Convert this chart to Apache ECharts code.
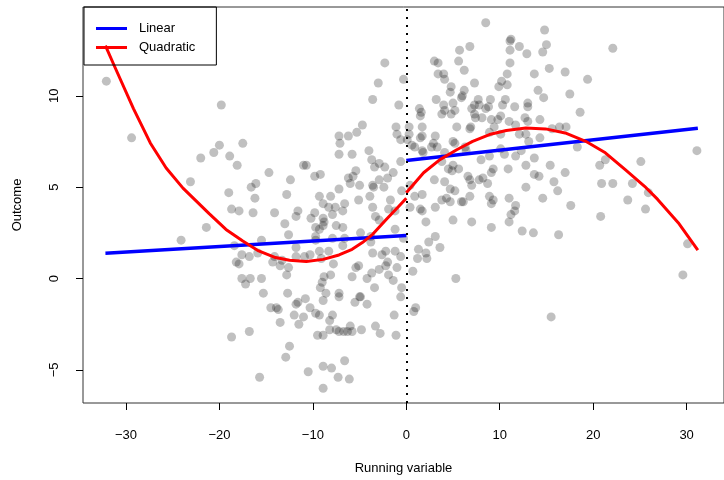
<!DOCTYPE html>
<html>
<head>
<meta charset="utf-8">
<script src="https://cdn.jsdelivr.net/npm/echarts@6/dist/echarts.min.js"></script>
<style>
  html, body { margin: 0; padding: 0; background: #fff; }
  #chart { width: 724px; height: 480px; }
</style>
</head>
<body>
<div id="chart"></div>
<script>
// scatter points (running variable, outcome)
const runVar = [
  -32.1, -19.8, -29.4, -17.5, -20.0, -20.6, -22.0, -18.9, -18.1, -14.7, -23.1, -16.1, -16.6, -19.0, -16.2,
  -18.7, -17.9, -16.4, -21.4, -24.1, -15.5, -18.4, -17.6, -16.8, -15.9, -18.2, -17.9, -14.3, -17.6, -16.7,
  -17.2, -15.5, -15.3, -14.5, -16.8, -18.7, -15.7, -14.1, -13.3,
  -2.3, -0.3, -3.0, -3.6, -0.8,
  -4.7, -5.3, -6.2, -7.2, -7.1, -1.1, -1.0, -0.6, -4.0, -7.2, -5.8, -3.7, -2.9, -3.4, -2.3, -0.6, -1.4, -5.4,
  -5.7, -10.7, -11.0, -9.2, -9.8, -12.4, -6.2, -6.0, -5.0, -2.9, -2.0, -3.6, -3.5, -2.4, -0.5, -7.2, -12.8,
  -9.3, -8.1, -3.9, -5.1, -1.7, -8.9, -8.3, -7.6, -6.6, -6.8, -3.6, -11.6, -14.1, -11.8, -9.8, -10.2, -8.9,
  -8.8, -7.9, -3.3, -2.9, -1.9, -1.2, -13.0, -7.5, -6.8, -9.7, -9.3, -8.9, -4.9, -1.2, -12.6, -9.7, -3.8, -0.3,
  -11.8, -13.5, -12.6, -11.8, -10.9, -10.3, -9.3, -8.3, -9.7, -7.9, -6.6, -6.8, -9.1, -7.8, -12.8, -8.1, -5.4,
  -5.1, -5.8, -3.7, -4.2, -2.9, -2.2, -2.0, -2.6, -2.2, -1.2, -0.6, -3.8, -3.6, -1.0, -1.9, -1.4, -3.4, -0.5,
  -0.6, -8.8, -9.0, -9.2, -8.6, -8.9, -7.2, -7.2, -5.0, -4.9, -5.5, -4.2, -12.7, -13.9, -13.7, -11.6, -11.8,
  -10.8, -10.3, -9.7, -9.3, -7.9, -12.0, -11.0, -13.5, -11.5, -8.2, -1.3, -3.3, -2.8, -4.8, -6.0, -6.3, -5.8,
  -7.5, -6.7, -7.2, -8.2, -9.5, -8.9, -1.1, -12.5, -12.9, -6.6, -8.9, -8.0, -10.5, -7.3, -6.1, -8.9,
  8.5, 11.2, 11.1, 12.1, 12.9, 11.1, 6.8, 5.7, 11.1, 5.6, 3.0, 3.4, 6.2, 3.4, 4.0, 4.1, 10.8, 7.3, 10.2, 9.9,
  10.8, 4.8, 4.7, 6.2, 6.0, 5.9, 3.2, 7.7, 7.3, 7.8, 7.0, 9.0, 8.8, 8.5, 10.6, 10.3, 11.6, 13.0, 4.0, 4.1,
  3.8, 5.0, 5.2, 4.8, 1.4, 1.6, 1.5, 7.3, 8.1, 7.4, 10.1, 9.8, 11.0, 11.7, 12.7, 13.0, 9.1, 9.4, 5.4, 6.8,
  6.9, 1.7, 0.3,
  0.3, 0.1, 1.5, 1.7, 3.1, 5.0, 5.2, 8.9, 12.1, 12.8, 10.1, 2.9, 2.7, 3.3, 0.6, 0.9, 1.7, 1.8, 4.1, 6.3,
  6.4, 8.0, 8.9, 10.1, 10.5, 11.7, 12.3, 3.8, 4.5, 4.9, 5.0, 5.6, 6.6, 6.8, 7.8, 8.2, 9.1, 9.3, 10.9, 12.8,
  3.0, 4.1, 0.9, 0.4, 1.7, 4.7, 5.2, 7.0, 6.8, 8.7, 8.9, 9.3, 12.8, 3.8, 4.3, 4.7, 5.9, 6.1, 1.5, 1.7,
  0.4, 3.1, 9.1, 11.0, 11.7, 11.6, 11.0, 5.0, 7.0, 2.1, 3.1, 9.1,
  0.7, 1.3, 1.2, 2.2, 2.1, 2.4, 3.6, 5.3, 1.0, 0.8,
  14.8, 15.0, 14.6, 22.1, 15.3, 13.7, 17.0, 19.4, 14.1, 14.7, 17.5, 13.0, 18.6, 14.3, 16.4, 17.1, 15.6, 13.1,
  14.3, 18.3, 13.7, 15.4, 17.0, 13.7, 14.2, 15.8, 16.2, 14.6, 20.7, 21.3, 25.1, 20.9, 22.1, 24.2, 25.9, 23.7,
  31.1,
  11.2, 12.4, 13.6, 16.3, 17.6, 20.8, 25.6, 30.1, 29.6, 15.5
];
const outcome = [
  10.8, 9.5, 7.7, 7.4, 7.3, 6.9, 6.6, 6.7, 6.2, 5.8, 5.3, 5.2, 5.0, 4.7, 4.4,
  3.8, 3.7, 3.6, 2.8, 2.1, 2.1, 1.8, 1.3, 1.2, 1.4, 0.9, 0.8, 0.9, 0.0, 0.0,
  -0.3, 0.0, -0.8, -1.6, -2.9, -3.2, -5.4, 1.2, 1.0,
  11.8, 10.9, 10.7, 9.8, 9.5,
  8.4, 8.0, 7.8, 7.8, 7.4, 8.3, 7.9, 7.6, 7.0, 6.8, 6.8, 6.5, 6.3, 6.1, 6.1, 6.4, 5.8, 5.9,
  5.6, 6.2, 6.2, 5.7, 5.6, 5.4, 5.5, 5.2, 5.1, 5.4, 5.5, 5.1, 5.0, 5.0, 4.8, 4.9, 4.6,
  4.5, 4.5, 4.5, 4.3, 4.3, 4.1, 3.9, 3.9, 4.1, 3.7, 3.9, 3.7, 3.6, 3.4, 3.6, 3.3, 3.3,
  3.1, 3.5, 3.4, 3.2, 3.8, 3.7, 3.0, 2.9, 2.8, 2.8, 2.7, 2.9, 2.5, 2.7, 2.4, 2.3, 2.3, 2.2,
  1.7, 0.7, 0.6, 1.2, 1.2, 1.3, 1.5, 1.5, 2.1, 2.2, 2.2, 1.8, 1.1, 0.8, 0.2, 0.2, 0.6,
  0.7, 0.1, 0.3, 0.0, 0.5, 0.7, 0.9, 1.3, 1.5, 1.5, 1.2, 2.0, 1.4, 0.6, 0.2, -0.1, -0.5, -0.5,
  -1.0, 0.1, -0.2, -0.5, -0.8, -1.2, -0.8, -1.0, -1.0, -1.0, -1.3, -1.4, -0.8, -1.6, -1.7, -1.3, -1.4,
  -1.1, -1.6, -1.9, -2.0, -2.0, -2.0, -2.1, -2.4, -2.5, -2.3, -2.0, -2.6, -3.0, -2.8, -2.6, -2.9, -2.9,
  -2.8, -2.9, -2.9, -2.8, -3.1, -3.1, -3.1, -3.7, -4.3, -4.5, -4.8, -4.9, -5.1, -5.4, -5.5, -6.0,
  14.0, 13.1, 13.0, 12.7, 12.3, 12.5, 12.7, 12.5, 11.8, 11.9, 11.9, 11.8, 11.4, 11.2, 11.2, 10.9, 11.2, 10.7, 10.8, 10.5,
  10.6, 10.5, 10.2, 10.3, 10.0, 9.9, 9.8, 9.8, 9.5, 9.5, 9.3, 9.8, 9.4, 9.3, 9.8, 9.5, 9.4, 9.6, 9.5, 9.2,
  9.0, 9.6, 9.2, 9.0, 9.3, 9.1, 8.9, 9.0, 8.8, 8.8, 8.9, 8.7, 8.6, 8.4, 8.8, 8.6, 8.7, 8.3, 8.3, 8.2,
  8.3, 8.3, 8.3,
  7.9, 7.6, 7.7, 7.8, 7.8, 7.5, 7.4, 8.0, 7.9, 7.9, 7.9, 7.4, 7.2, 7.2, 7.3, 7.2, 7.0, 6.9, 6.9, 7.2,
  7.0, 6.5, 6.7, 7.1, 6.8, 6.7, 7.0, 6.4, 6.0, 5.9, 6.2, 6.0, 5.6, 5.4, 5.4, 5.5, 5.8, 6.0, 6.0, 6.2,
  5.4, 5.3, 4.5, 5.1, 4.6, 4.9, 4.8, 5.1, 4.5, 5.2, 4.5, 4.3, 5.0, 4.3, 4.4, 4.2, 4.2, 4.2, 3.8, 3.7,
  3.9, 3.9, 4.1, 4.4, 4.0, 3.7, 3.1, 3.2, 3.1, 3.1, 2.3, 2.8,
  0.4, 1.6, 1.1, 1.1, 1.4, 2.0, 1.7, 0.0, -1.6, -1.8,
  13.6, 12.8, 12.4, 12.6, 11.5, 11.2, 11.3, 10.9, 10.3, 9.9, 10.1, 9.4, 9.1, 8.7, 8.3, 8.3, 8.2, 7.5,
  7.7, 7.2, 6.6, 6.2, 5.8, 5.7, 5.6, 5.3, 4.8, 4.4, 6.2, 6.5, 6.4, 5.2, 5.2, 5.2, 4.7, 4.3,
  7.0,
  3.5, 2.6, 2.5, 2.4, 4.0, 3.4, 3.8, 1.9, 0.2, -2.1
];

const cutoff = 0;
const linLeftX = [-32.2, 0];
const linLeftY = [1.38, 2.36];
const linRightX = [0, 31.2];
const linRightY = [6.46, 8.22];
const quadLeftX = [-32.2, -31.3, -29.2, -27.4, -25.7, -23.9, -22.5, -21.1, -19.3, -17.5, -15.8, -14.0,
  -12.5, -10.7, -8.9, -7.2, -5.8, -4.7, -3.6, -2.2, -0.8, 0];
const quadLeftY = [12.75, 11.7, 9.3, 7.42, 6.05, 4.95, 4.25, 3.55, 2.69, 2.05, 1.51, 1.15,
  1.0, 0.93, 1.05, 1.29, 1.60, 1.97, 2.42, 3.2, 3.96, 4.40];
const quadRightX = [0, 1.85, 3.6, 5.4, 7.1, 8.9, 10.7, 12.8, 14.9, 17.0, 19.2, 21.3, 23.4, 25.5, 26.9, 29.1, 31.2];
const quadRightY = [4.7, 5.79, 6.51, 7.05, 7.51, 7.88, 8.10, 8.24, 8.19, 7.97, 7.51, 6.88, 5.97, 5.05, 4.33, 3.06, 1.56];

const xTicks = [-30, -20, -10, 0, 10, 20, 30];
const yTicks = [-5, 0, 5, 10];

const font = "'Liberation Sans', Arial, sans-serif";
const zip = (xs, ys) => xs.map((x, i) => [x, ys[i]]);
const minus = v => String(v).replace('-', '\u2212');

const chart = echarts.init(document.getElementById('chart'));

chart.setOption({
  animation: false,
  backgroundColor: '#fff',
  grid: {
    left: 83, top: 7, right: -6, bottom: 76,
    show: true, borderColor: '#333', borderWidth: 1
  },
  legend: {
    data: ['Linear', 'Quadratic'],
    orient: 'vertical',
    left: 84, top: 7,
    padding: [15, 21, 11, 12],
    itemWidth: 31, itemHeight: 3, itemGap: 6,
    icon: 'rect',
    borderColor: '#000', borderWidth: 1,
    textStyle: { fontFamily: font, fontSize: 13, color: '#000', padding: [0, 0, 0, 7] }
  },
  xAxis: {
    type: 'value',
    min: -34.6, max: 34.0,
    name: 'Running variable',
    nameLocation: 'middle',
    nameGap: 59,
    nameTextStyle: { fontFamily: font, fontSize: 13, color: '#000' },
    splitLine: { show: false },
    axisLine: { show: false, onZero: false },
    axisTick: { show: true, length: 7, customValues: xTicks, lineStyle: { color: '#000' } },
    axisLabel: { customValues: xTicks, margin: 26, fontFamily: font, fontSize: 13, color: '#000', formatter: minus }
  },
  yAxis: {
    type: 'value',
    min: -6.81, max: 14.86,
    name: 'Outcome',
    nameLocation: 'middle',
    nameRotate: 90,
    nameGap: 59,
    nameTextStyle: { fontFamily: font, fontSize: 13, color: '#000' },
    splitLine: { show: false },
    axisLine: { show: false, onZero: false },
    axisTick: { show: true, length: 7, customValues: yTicks, lineStyle: { color: '#000' } },
    axisLabel: { customValues: yTicks, rotate: 90, margin: 22, fontFamily: font, fontSize: 13, color: '#000', formatter: minus }
  },
  series: [
    {
      type: 'scatter',
      data: zip(runVar, outcome),
      symbolSize: 9,
      itemStyle: { color: 'rgba(0,0,0,0.31)' },
      emphasis: { disabled: true },
      silent: true,
      markLine: {
        silent: true,
        symbol: 'none',
        label: { show: false },
        lineStyle: { color: '#000', type: [2, 6], width: 2 },
        data: [{ xAxis: cutoff }]
      }
    },
    {
      name: 'Linear', type: 'line', data: zip(linLeftX, linLeftY),
      showSymbol: false, lineStyle: { color: '#0000ff', width: 3.5 }, itemStyle: { color: '#0000ff' }
    },
    {
      name: 'Linear', type: 'line', data: zip(linRightX, linRightY),
      showSymbol: false, lineStyle: { color: '#0000ff', width: 3.5 }, itemStyle: { color: '#0000ff' }
    },
    {
      name: 'Quadratic', type: 'line', data: zip(quadLeftX, quadLeftY),
      showSymbol: false, lineStyle: { color: '#ff0000', width: 3, join: 'round' }, itemStyle: { color: '#ff0000' }
    },
    {
      name: 'Quadratic', type: 'line', data: zip(quadRightX, quadRightY),
      showSymbol: false, lineStyle: { color: '#ff0000', width: 3, join: 'round' }, itemStyle: { color: '#ff0000' }
    }
  ]
});
</script>
</body>
</html>
